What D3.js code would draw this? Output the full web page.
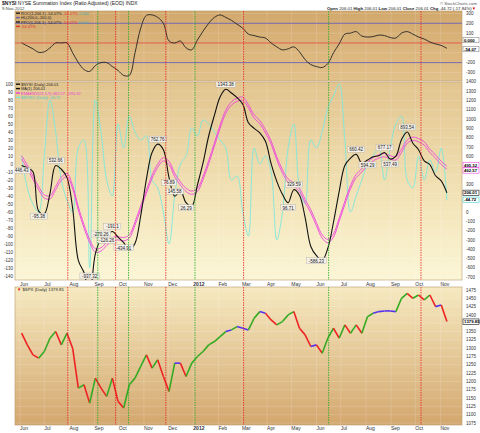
<!DOCTYPE html>
<html><head><meta charset="utf-8">
<script src="https://cdn.jsdelivr.net/npm/d3@7"></script>
<style>body{margin:0;background:#fff}text{font-family:"Liberation Sans",Arial,sans-serif}</style>
</head><body><svg id="c" width="480" height="433"></svg>
<script>
// ---- data (weekly Fridays, 2011-06-03 .. 2012-11-09) ----
const startDate = new Date(2011,5,3);
const topOsc = [0,-30,-60,-95,-90,-50,0,0,0,-100,-200,-270,-290,-230,-200,-200,-240,-280,-330,-330,-100,150,280,285,260,200,20,0,20,-50,-70,30,120,200,260,285,260,230,190,150,90,75,60,50,0,-40,-70,-60,-40,-90,-170,-220,-240,-250,-210,-100,-10,90,100,115,70,60,65,80,75,55,50,100,115,90,60,40,10,-10,-25,-55];
const nysi = [500,475,433,10,-20,200,500,460,370,40,-520,-650,-880,-450,-290,-250,-210,-270,-330,-410,-337,-40,350,640,730,670,370,170,230,100,60,290,530,820,1040,1238,1320,1280,1230,1160,960,900,850,760,520,330,190,100,240,180,-60,-370,-470,-520,-390,-110,220,500,580,620,525,560,594,605,640,570,600,780,860,740,670,550,510,390,335,206];
const emaLow = [570,470,350,240,150,140,240,340,380,250,20,-170,-330,-430,-420,-360,-310,-300,-310,-280,-140,30,200,360,480,550,510,380,290,220,190,220,350,520,710,900,1060,1150,1190,1200,1120,1010,950,850,730,560,420,320,280,220,100,-10,-150,-280,-330,-270,-100,80,250,370,430,500,550,580,594,570,560,640,740,770,755,720,640,580,510,463];
const emaHigh = [605,505,385,275,185,175,275,375,415,285,55,-135,-295,-395,-385,-325,-275,-265,-275,-245,-105,65,235,395,515,585,545,415,325,255,225,255,385,555,745,935,1095,1185,1225,1235,1155,1045,985,885,765,595,455,355,315,255,135,25,-115,-245,-295,-235,-65,115,285,405,465,535,585,615,629,605,595,675,775,805,790,755,675,615,545,495];
const nymo = [10,-30,-50,-60,10,80,40,-20,-45,-60,20,30,-130,80,40,-20,-40,50,20,60,40,30,35,-20,-30,-60,-100,-40,0,10,45,35,55,50,40,30,20,-20,-15,-60,-90,20,0,10,-10,-95,-60,20,50,-30,-50,30,20,40,70,85,100,30,-60,-40,-20,0,10,20,-20,20,50,60,-20,-30,10,-20,5,-10,20,-45];
const spx = [1345,1310,1280,1270,1290,1330,1350,1310,1345,1300,1180,1190,1135,1210,1180,1155,1210,1140,1120,1190,1210,1245,1280,1240,1265,1215,1170,1255,1255,1215,1255,1275,1290,1310,1320,1335,1350,1355,1365,1360,1355,1390,1410,1405,1385,1370,1380,1400,1410,1360,1340,1305,1310,1285,1330,1360,1330,1370,1345,1370,1345,1395,1405,1410,1412,1412,1410,1450,1465,1450,1460,1445,1460,1425,1430,1380];
const redLines = ["2011-07-30","2011-09-27","2011-11-28","2012-03-03","2012-10-08"];
const greenLines = ["2011-09-05","2011-10-13","2012-01-03","2012-06-16"];
const topTicks = [300,200,100,0,-100,-200,-300];
const midRightTicks = [1400,1300,1200,1100,1000,900,800,700,600,500,400,300,200,100,0,-100,-200,-300,-400,-500,-600,-700];
const midLeftTicks = [100,90,80,70,60,50,40,30,20,10,0,-10,-20,-30,-40,-50,-60,-70,-80,-90,-100,-110,-120,-130,-140];
const spxTicks = [1475,1450,1425,1400,1375,1350,1325,1300,1275,1250,1225,1200,1175,1150,1125,1100,1075];
const pivots = [[0,"446.43",1],[6,"532.66",-1],[3,"-95.38",1],[12,"-937.32",1],[14,"-270.26",-1],[16,"-191.1",-1],[15,"-126.26",1],[18,"-434.91",1],[24,"762.76",-1],[27,"145.58",-1],[26,"76.89",1],[29,"26.29",1],[36,"1343.38",-1],[48,"329.59",-1],[47,"96.71",1],[52,"-586.23",1],[59,"660.42",-1],[61,"594.29",1],[64,"677.17",-1],[65,"537.49",1],[68,"893.54",-1]];

const dates = nysi.map((_,i)=>d3.timeDay.offset(startDate,i*7));
const svg = d3.select("#c");
const L=15,R=462;
const x = d3.scaleTime().domain([new Date(2011,5,1),new Date(2012,10,9)]).range([20,446.9]);
const P = {top:[11,81],mid:[82,280],bot:[287,425]};
const yTop = d3.scaleLinear().domain([325,-387]).range(P.top);
const yMidR = d3.scaleLinear().domain([1398,-731]).range(P.mid);
const yMidL = d3.scaleLinear().domain([102.5,-145]).range(P.mid);
const ySpx = d3.scaleLinear().domain([1484,1069]).range(P.bot);

const defs = svg.append("defs");
function grad(id,stops){const g=defs.append("linearGradient").attr("id",id).attr("x1",0).attr("y1",0).attr("x2",0).attr("y2",1);
 stops.forEach(s=>g.append("stop").attr("offset",s[0]).attr("stop-color",s[1]));}
grad("gTop",[[0,"#d2a86c"],[1,"#e2c18a"]]);
grad("gMid",[[0,"#e2c48e"],[0.6,"#f3e4b8"],[1,"#fbf6d6"]]);
grad("gBot",[[0,"#f6e9c0"],[1,"#d3a76e"]]);
Object.entries(P).forEach(([k,p])=>{defs.append("clipPath").attr("id","cl"+k).append("rect").attr("x",L).attr("y",p[0]).attr("width",R-L).attr("height",p[1]-p[0]);});

const months = d3.timeMonth.range(new Date(2011,5,1),new Date(2012,10,2));
function panel(key,fill,yTicks,yS){
  const p=P[key];
  svg.append("rect").attr("x",L).attr("y",p[0]).attr("width",R-L).attr("height",p[1]-p[0]).attr("fill",`url(#${fill})`).attr("stroke","#b79a70").attr("stroke-width",0.6);
  const g=svg.append("g").attr("clip-path",`url(#cl${key})`);
  g.selectAll(".vg").data(months).join("line").attr("x1",d=>x(d)).attr("x2",d=>x(d)).attr("y1",p[0]).attr("y2",p[1]).attr("stroke","#fff").attr("stroke-opacity",0.3).attr("stroke-width",0.5);
  g.selectAll(".hg").data(yTicks).join("line").attr("x1",L).attr("x2",R).attr("y1",d=>yS(d)).attr("y2",d=>yS(d)).attr("stroke","#fff").attr("stroke-opacity",0.3).attr("stroke-width",0.5);
  return g;
}
const gT=panel("top","gTop",topTicks,yTop);
const gM=panel("mid","gMid",midRightTicks,yMidR);
const gB=panel("bot","gBot",spxTicks,ySpx);

[[200,"#6a5fb0"],[-200,"#6a5fb0"],[0,"#e05040"]].forEach(([v,c])=>gT.append("line").attr("x1",L).attr("x2",R).attr("y1",yTop(v)).attr("y2",yTop(v)).attr("stroke",c).attr("stroke-width",0.9));
const lineOf=(yS)=>d3.line().x((d,i)=>x(dates[i])).y(d=>yS(d)).curve(d3.curveCatmullRom);
gT.append("path").attr("d",lineOf(yTop)(topOsc)).attr("fill","none").attr("stroke","#222").attr("stroke-width",0.9);

gM.append("path").attr("d",lineOf(yMidL)(nymo)).attr("fill","none").attr("stroke","#7de8dc").attr("stroke-width",0.9);
gM.append("path").attr("d",lineOf(yMidR)(emaHigh)).attr("fill","none").attr("stroke","#ee44dd").attr("stroke-width",0.9);
gM.append("path").attr("d",lineOf(yMidR)(emaLow)).attr("fill","none").attr("stroke","#ee44dd").attr("stroke-width",0.9);
gM.append("path").attr("d",lineOf(yMidR)(nysi)).attr("fill","none").attr("stroke","#111").attr("stroke-width",1.1);
pivots.forEach(([i,t,s])=>{
  const px=x(dates[i]), py=Math.min(276,yMidR(nysi[i])+(s>0?5:-5));
  const gg=gM.append("g");
  const w=t.length*2.5+2;
  gg.append("rect").attr("x",px-w/2).attr("y",py-3).attr("width",w).attr("height",6).attr("fill","#f4f0e8").attr("stroke","#999").attr("stroke-width",0.3);
  gg.append("text").attr("x",px).attr("y",py+1.8).attr("text-anchor","middle").attr("font-size",4.5).attr("fill","#222").text(t);
});

for(let i=1;i<spx.length;i++){
  const dlt=spx[i]-spx[i-1];
  const c=Math.abs(dlt)<8?"#5533ee":(dlt>0?"#33aa22":"#ee2222");
  gB.append("line").attr("x1",x(dates[i-1])).attr("x2",x(dates[i])).attr("y1",ySpx(spx[i-1])).attr("y2",ySpx(spx[i])).attr("stroke",c).attr("stroke-width",1.6);
}

const vl=svg.append("g");
[[redLines,"#ee2020"],[greenLines,"#22aa22"]].forEach(([arr,c])=>arr.forEach(s=>{
  const xx=x(new Date(s+"T00:00"));
  Object.values(P).forEach(p=>vl.append("line").attr("x1",xx).attr("x2",xx).attr("y1",p[0]).attr("y2",p[1]).attr("stroke",c).attr("stroke-width",0.8).attr("stroke-dasharray","1.5,1"));
}));

// value boxes on right
const boxes=[[yMidR(495.32)-1,"495.32","#ee44dd"],[yMidR(462.57)+1.5,"462.57","#ee44dd"],[yMidR(206.01),"206.01","#111"],[yMidL(-44.72),"-44.72","#40d0d0"],[ySpx(1379.85),"1379.85","#111"],[yTop(30),"0.000","#888"],[yTop(-62),"-54.07","#888"]];
const boxY=boxes.map(b=>b[0]);
const free=(y)=>boxY.every(b=>Math.abs(b-y)>5.5);

function rightLabels(ticks,yS){svg.append("g").selectAll("text").data(ticks.filter(d=>free(yS(d)))).join("text").attr("x",R+4).attr("y",d=>yS(d)+1.6).attr("font-size",4.5).attr("fill","#333").text(d=>d);}
rightLabels(topTicks,yTop);
rightLabels(midRightTicks,yMidR);
rightLabels(spxTicks,ySpx);
svg.append("g").selectAll("text").data(midLeftTicks).join("text").attr("x",L-2).attr("y",d=>yMidL(d)+1.6).attr("text-anchor","end").attr("font-size",4.5).attr("fill","#333").text(d=>d);
function monthLabels(y){svg.append("g").selectAll("text").data(months).join("text").attr("x",d=>x(d)).attr("y",y).attr("font-size",5).attr("fill","#333").attr("font-weight",d=>d.getMonth()===0?"bold":"normal").text(d=>d.getMonth()===0?d.getFullYear():d3.timeFormat("%b")(d));}
monthLabels(285.5); monthLabels(430);

boxes.forEach(([y,t,c])=>{svg.append("rect").attr("x",R+1).attr("y",y-2.7).attr("width",16).attr("height",5.4).attr("fill","#fff").attr("stroke",c).attr("stroke-width",0.6);
 svg.append("text").attr("x",R+2).attr("y",y+1.6).attr("font-size",4.3).attr("font-weight","bold").attr("fill","#000").text(t);});

// header
svg.append("text").attr("x",2).attr("y",5).attr("font-size",5).attr("fill","#222").html('<tspan font-weight="bold">$NYSI</tspan> NYSE Summation Index (Ratio Adjusted) (EOD) INDX');
svg.append("text").attr("x",2).attr("y",10).attr("font-size",4.3).attr("fill","#444").text("9-Nov-2012");
svg.append("text").attr("x",R+15).attr("y",4.5).attr("text-anchor","end").attr("font-size",4.3).attr("fill","#555").text("© StockCharts.com");
svg.append("text").attr("x",R+14).attr("y",10).attr("text-anchor","end").attr("font-size",4.3).attr("fill","#222").html('<tspan font-weight="bold">Open</tspan> 206.01 <tspan font-weight="bold">High</tspan> 206.01 <tspan font-weight="bold">Low</tspan> 206.01 <tspan font-weight="bold">Close</tspan> 206.01 <tspan font-weight="bold">Chg</tspan> -44.72 (-17.84%)<tspan fill="#d00">▼</tspan>');

function legend(x0,y0,items){items.forEach((it,i)=>{const g=svg.append("g");
 g.append("rect").attr("x",x0).attr("y",y0+i*4.4-2.5).attr("width",4).attr("height",1.4).attr("fill",it[1]);
 g.append("text").attr("x",x0+5).attr("y",y0+i*4.4).attr("font-size",4).attr("fill",it[2]||"#222").html(it[0]);});}
legend(16,15,[["ROC(1,206.1) -54.07% <tspan fill='#e03030'>-54.07%</tspan> <tspan fill='#4aa'>0.000</tspan>","#222"],["HL(200,0,-200,0)","#6a5fb0"],["PPO(1,206.1) -54.07% <tspan fill='#e03030'>-54.07%</tspan> <tspan fill='#4aa'>0.000</tspan>","#222"],["-54.07%","#e03030","#e03030"]]);
legend(16,86,[["$NYSI (Daily) 206.01","#111"],["MA(1) 206.01","#111"],["EMAENV(21,5,9) 462.57 - 495.32","#ee44dd","#ee44dd"],["$NYMO (Daily) -44.72","#7de8dc","#5cc"]]);
svg.append("text").attr("x",17).attr("y",291).attr("font-size",4.3).attr("fill","#222").html('<tspan fill="#d00">▼</tspan> $SPX (Daily) 1379.85');
</script></body></html>
